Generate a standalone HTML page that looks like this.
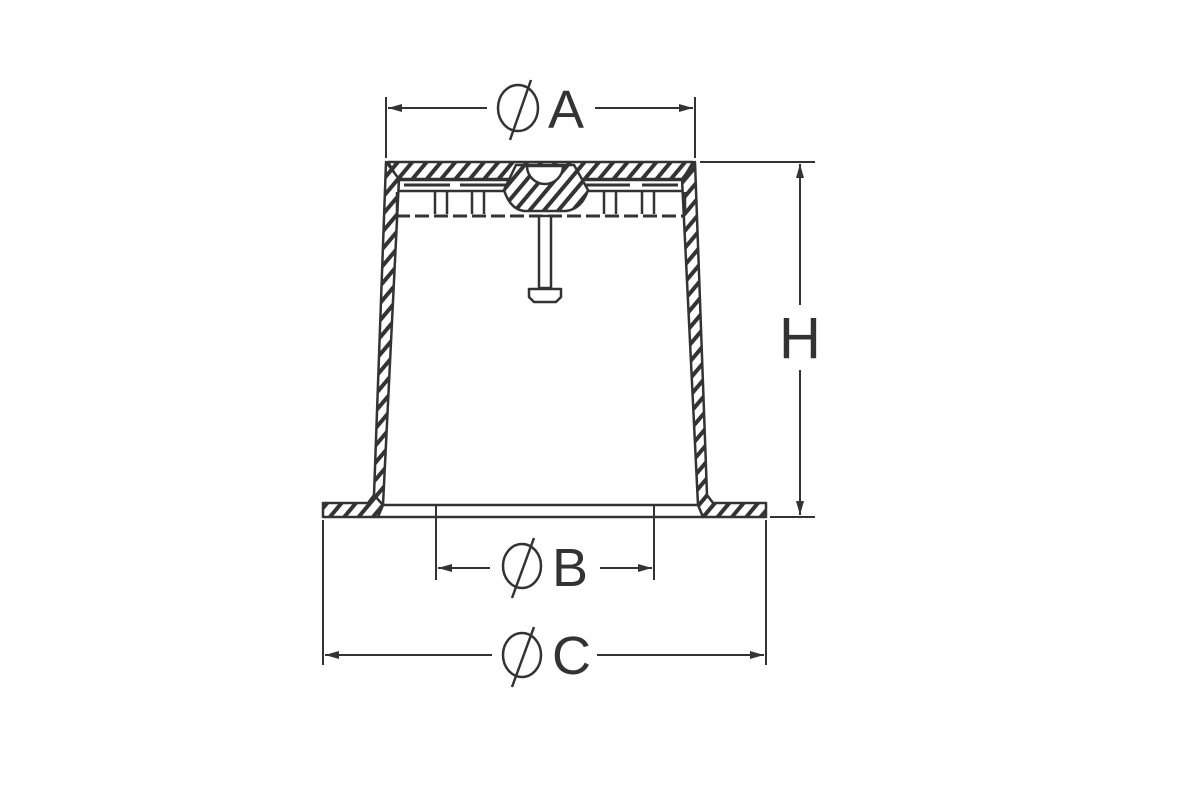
<!DOCTYPE html>
<html><head><meta charset="utf-8"><style>body{margin:0;background:#fff}svg{display:block}</style></head><body>
<svg width="1200" height="800" viewBox="0 0 1200 800" xmlns="http://www.w3.org/2000/svg">
<defs>
<pattern id="h" width="11" height="11" patternUnits="userSpaceOnUse" patternTransform="rotate(40)">
<rect width="11" height="11" fill="#fff"/><rect x="0" y="0" width="4" height="11" fill="#333"/>
</pattern>
<marker id="ar" markerWidth="14" markerHeight="8" refX="14" refY="4" orient="auto" markerUnits="userSpaceOnUse"><path d="M0,0 L14,4 L0,8 Z" fill="#333"/></marker>
</defs>
<g stroke="#333" stroke-width="2.5" fill="none" stroke-linejoin="round">
<path d="M388,162 L693,162 L683,179 L398,179 Z" fill="url(#h)"/>
<path d="M386,162 L399,179 L383,505 L370,503 L374,495 Z" fill="url(#h)"/>
<path d="M374,495 L368,503 L323,503 L323,517 L378,517 L383,505 Z" fill="url(#h)"/>
<path d="M695,162 L682,179 L698,505 L711,503 L707,495 Z" fill="url(#h)"/>
<path d="M707,495 L713,503 L766,503 L766,517 L703,517 L698,505 Z" fill="url(#h)"/>
<line x1="382" y1="505" x2="698" y2="505"/>
<line x1="378" y1="517" x2="703" y2="517"/>
<path d="M398,180 L512,180 M578,180 L683,180"/>
<path d="M398,191 L512,191 M578,191 L683,191"/>
<path d="M404,185 L450,185 M460,185 L510,185 M582,185 L630,185 M642,185 L678,185" stroke-width="3"/>
<path d="M397,192 L397,215 M685,192 L685,215"/>
<path d="M435,192 v22 M447,192 v22 M472,192 v22 M484,192 v22 M604,192 v22 M616,192 v22 M642,192 v22 M654,192 v22"/>
<path d="M396,216 L685,216" stroke-dasharray="14,5" stroke-width="3"/>
<path d="M516,165 L574,165 L588,190 Q582,209 566,211 L524,211 Q510,209 504,190 Z" fill="url(#h)"/>
<path d="M527,166 A18,18 0 0 0 563,166 Z" fill="#fff"/>
<rect x="539" y="216" width="12" height="72" fill="#fff"/>
<path d="M529,289 L561,289 L561,297 L556,302 L534,302 L529,297 Z" fill="#fff"/>
<g stroke-width="2">
<line x1="386" y1="97" x2="386" y2="158"/><line x1="695" y1="97" x2="695" y2="158"/>
<line x1="487" y1="108" x2="388" y2="108" marker-end="url(#ar)"/>
<line x1="595" y1="108" x2="693" y2="108" marker-end="url(#ar)"/>
<line x1="700" y1="162" x2="815" y2="162"/><line x1="770" y1="517" x2="815" y2="517"/>
<line x1="800" y1="305" x2="800" y2="164" marker-end="url(#ar)"/>
<line x1="800" y1="370" x2="800" y2="515" marker-end="url(#ar)"/>
<line x1="436" y1="505" x2="436" y2="580"/><line x1="654" y1="505" x2="654" y2="580"/>
<line x1="490" y1="568" x2="438" y2="568" marker-end="url(#ar)"/>
<line x1="600" y1="568" x2="652" y2="568" marker-end="url(#ar)"/>
<line x1="323" y1="520" x2="323" y2="665"/><line x1="766" y1="520" x2="766" y2="665"/>
<line x1="492" y1="655" x2="325" y2="655" marker-end="url(#ar)"/>
<line x1="597" y1="655" x2="764" y2="655" marker-end="url(#ar)"/>
</g>
<g stroke-width="2.5">
<ellipse cx="518" cy="108" rx="20" ry="23"/><line x1="531" y1="80" x2="510" y2="140"/>
<ellipse cx="522" cy="566" rx="19" ry="22"/><line x1="534" y1="538" x2="512" y2="598"/>
<ellipse cx="522" cy="655" rx="19" ry="22"/><line x1="534" y1="627" x2="512" y2="687"/>
</g>
</g>
<g font-family="Liberation Sans, sans-serif" fill="#333" font-size="54">
<text x="548" y="128">A</text>
<text x="552" y="586">B</text>
<text x="552" y="674">C</text>
<text x="779" y="358" font-size="58">H</text>
</g>
</svg>
</body></html>
